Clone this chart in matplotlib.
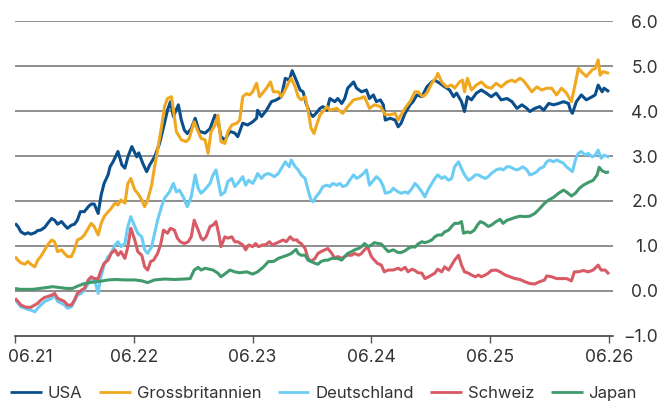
import matplotlib
matplotlib.use("Agg")
import matplotlib.pyplot as plt
import matplotlib.transforms as mtransforms
from matplotlib.ticker import FixedLocator, FuncFormatter

plt.rcParams['font.family'] = ['Inter', 'DejaVu Sans']

# x: months since June 2021 ; values: 10y yield in %
usa_m = [0.0,0.3,0.6,1.0,1.3,1.6,2.0,2.3,2.6,3.0,3.3,3.7,4.0,4.3,4.7,5.0,5.3,5.7,6.0,6.3,6.6,7.0,7.4,7.7,8.0,8.4,8.7,9.0,9.4,9.6,9.9,10.4,10.8,11.1,11.4,11.8,12.3,12.5,12.9,13.3,13.6,14.1,14.6,15.1,15.4,15.7,16.0,16.5,16.8,17.1,17.4,17.8,18.2,18.6,19.2,19.7,20.2,20.5,20.8,21.2,21.7,22.2,22.5,23.0,23.5,24.0,24.4,24.5,24.9,25.4,25.9,26.4,26.9,27.3,27.7,28.0,28.4,28.8,29.1,29.4,29.8,30.1,30.4,30.8,31.1,31.5,31.8,
         32.3,32.6,33.0,33.3,33.6,34.2,34.5,35.0,35.5,35.8,36.2,36.5,36.9,37.2,37.4,37.9,38.4,38.7,39.0,39.4,39.9,40.2,40.6,41.1,41.6,42.1,42.4,42.9,43.4,43.9,44.3,44.6,45.1,45.4,45.7,46.1,46.6,47.1,47.6,48.1,48.6,49.1,49.7,50.2,50.7,51.2,51.7,52.0,52.5,53.0,53.4,53.9,54.4,54.9,55.4,55.9,56.1,56.3,56.7,57.2,57.7,58.3,58.6,58.9,59.3,59.5,60.0]
usa_v = [1.50,1.43,1.31,1.26,1.29,1.26,1.29,1.34,1.35,1.41,1.50,1.61,1.57,1.48,1.54,1.46,1.39,1.46,1.48,1.57,1.76,1.76,1.87,1.93,1.93,1.72,2.13,2.39,2.58,2.76,2.87,3.10,2.80,2.73,2.98,3.21,2.98,3.07,2.84,2.65,2.80,2.98,3.28,3.73,4.02,4.21,3.88,4.14,3.80,3.58,3.50,3.61,3.84,3.55,3.51,3.61,3.91,3.80,3.43,3.36,3.55,3.51,3.43,3.73,3.69,3.76,3.84,4.02,3.88,4.02,4.21,4.25,4.32,4.73,4.69,4.90,4.69,4.47,4.43,4.17,3.95,3.88,3.95,4.06,4.10,4.02,4.28,
         4.21,4.28,4.17,4.28,4.51,4.65,4.51,4.43,4.47,4.28,4.36,4.21,4.25,4.14,3.80,3.84,3.80,3.65,3.73,3.95,4.14,4.21,4.36,4.32,4.54,4.65,4.69,4.62,4.54,4.47,4.32,4.40,4.21,3.99,4.32,4.25,4.40,4.47,4.40,4.32,4.40,4.25,4.28,4.21,4.06,4.14,4.06,3.99,4.06,4.10,4.02,4.17,4.14,4.17,4.21,4.17,4.02,3.95,4.21,4.36,4.25,4.32,4.36,4.58,4.43,4.51,4.43]

gb_m = [0.0,0.3,0.6,1.0,1.3,1.6,2.0,2.3,2.6,3.0,3.3,3.7,4.0,4.3,4.7,5.0,5.3,5.7,6.0,6.3,6.7,7.0,7.4,7.7,8.0,8.4,8.7,9.0,9.4,
        9.6,10.1,10.4,10.7,11.1,11.4,11.7,12.1,12.4,12.8,13.1,13.4,13.8,14.1,14.4,14.8,15.1,15.4,15.8,16.0,16.3,16.8,17.3,17.6,17.9,18.1,18.5,18.8,19.2,
        19.5,19.8,20.2,20.5,20.8,21.2,21.5,21.9,22.4,22.7,23.0,23.4,23.7,24.0,24.4,24.7,25.1,25.4,25.8,26.1,26.6,26.9,27.2,27.6,27.9,28.3,
        28.6,28.9,29.3,29.6,29.9,30.2,30.4,30.8,31.1,31.5,31.8,
        32.5,33.1,33.6,34.2,34.8,35.3,35.8,36.3,36.9,37.4,37.9,38.4,38.7,39.0,39.5,39.9,40.4,40.7,41.2,41.6,42.1,42.6,42.7,43.1,43.6,44.1,44.4,44.9,45.2,45.4,45.7,46.1,46.6,47.1,47.6,48.1,48.6,49.1,49.7,50.2,50.5,51.0,51.3,51.7,52.2,52.7,53.2,53.7,54.2,54.7,55.2,55.7,56.2,56.6,56.9,57.2,57.7,58.3,58.6,58.9,59.1,59.4,60.0]
gb_v = [0.76,0.68,0.62,0.59,0.65,0.59,0.53,0.68,0.76,0.91,1.02,1.13,1.09,0.87,0.91,0.83,0.76,0.76,0.91,1.13,1.17,1.24,1.39,1.50,1.43,1.24,1.50,1.65,1.76,
        1.80,1.95,1.91,2.02,1.95,2.39,2.50,2.24,2.17,2.02,1.87,2.02,2.35,2.76,3.13,3.65,4.10,4.28,4.32,4.02,3.54,3.36,3.32,3.39,3.62,3.76,3.54,3.39,3.36,
        3.06,3.54,3.69,3.91,3.32,3.28,3.54,3.69,3.73,3.80,4.32,4.39,4.36,4.43,4.62,4.32,4.43,4.51,4.65,4.43,4.43,4.32,4.43,4.62,4.73,4.54,
        4.32,4.25,4.32,4.02,3.62,3.50,3.65,3.91,3.99,4.10,4.02,
        4.06,3.95,4.10,4.25,4.28,4.32,4.06,4.14,4.10,3.92,3.92,3.95,3.80,3.92,4.10,4.21,4.43,4.43,4.32,4.40,4.62,4.77,4.84,4.65,4.54,4.58,4.51,4.65,4.69,4.43,4.73,4.47,4.58,4.65,4.54,4.51,4.62,4.54,4.65,4.69,4.65,4.73,4.69,4.58,4.43,4.54,4.47,4.51,4.51,4.36,4.51,4.40,4.21,4.62,4.95,4.88,4.77,4.92,4.95,5.14,4.80,4.88,4.84]

de_m = [0.0,0.3,0.6,1.0,1.3,1.6,2.0,2.3,2.6,3.0,3.3,3.7,4.0,4.3,4.7,5.0,5.3,5.7,6.0,6.3,6.7,7.0,7.4,7.7,8.0,8.4,8.6,9.0,9.4,
        9.6,10.1,10.4,10.7,11.1,11.4,11.7,12.1,12.4,12.8,13.1,13.4,13.8,14.1,14.4,14.8,15.1,15.6,16.0,16.3,16.6,17.0,17.4,17.8,18.2,18.5,18.8,
        19.3,19.7,20.0,20.3,20.6,20.8,21.2,21.5,21.9,22.2,22.5,23.0,23.3,23.6,24.0,24.3,24.5,24.9,25.2,25.6,25.9,26.2,26.6,26.9,27.3,27.7,27.9,28.3,28.6,
        28.9,29.3,29.6,29.9,30.1,30.4,30.8,31.1,31.5,31.8,32.1,32.5,32.8,33.1,33.5,33.8,34.2,34.5,34.8,35.2,35.5,35.8,36.2,36.5,36.9,37.2,37.4,37.9,38.2,
        38.7,39.0,39.4,39.7,40.1,40.4,40.7,41.1,41.4,41.7,42.1,42.4,42.7,43.1,43.4,43.8,44.1,44.4,44.8,45.1,45.4,45.8,46.1,46.5,46.8,47.1,47.5,47.8,
        48.1,48.6,49.0,49.3,49.7,50.0,50.3,50.7,51.0,51.3,51.7,52.0,52.4,52.7,53.0,53.4,53.7,54.0,54.4,54.7,55.1,55.4,55.7,56.1,56.3,56.6,56.9,57.2,57.6,57.9,58.3,58.6,58.9,59.2,59.5,60.0]
de_v = [-0.19,-0.28,-0.36,-0.39,-0.42,-0.43,-0.47,-0.39,-0.32,-0.24,-0.21,-0.17,-0.10,-0.24,-0.28,-0.32,-0.39,-0.36,-0.24,-0.10,-0.06,0.01,0.16,0.24,0.27,-0.06,0.24,0.57,0.76,
        0.79,1.02,1.09,0.98,1.05,1.43,1.65,1.43,1.28,1.20,0.91,0.83,0.98,1.28,1.57,1.87,2.06,2.20,2.39,2.20,2.24,2.09,1.87,2.09,2.58,2.28,2.17,
        2.28,2.39,2.58,2.69,2.35,2.13,2.20,2.43,2.50,2.32,2.39,2.54,2.35,2.46,2.39,2.50,2.61,2.50,2.58,2.61,2.58,2.54,2.61,2.72,2.87,2.76,2.91,2.76,2.69,
        2.58,2.50,2.24,2.02,1.98,2.09,2.20,2.32,2.35,2.32,2.39,2.35,2.39,2.32,2.35,2.46,2.58,2.50,2.54,2.61,2.69,2.35,2.46,2.54,2.46,2.32,2.17,2.20,2.28,
        2.20,2.17,2.20,2.17,2.28,2.39,2.32,2.20,2.09,2.24,2.39,2.50,2.58,2.50,2.54,2.46,2.50,2.76,2.87,2.72,2.58,2.46,2.50,2.58,2.58,2.54,2.50,2.54,
        2.61,2.69,2.72,2.69,2.76,2.76,2.72,2.69,2.72,2.76,2.69,2.58,2.61,2.65,2.72,2.76,2.87,2.91,2.87,2.91,2.87,2.84,2.76,2.69,2.65,2.91,3.06,3.10,3.02,3.06,2.98,3.02,3.13,2.95,3.02,2.97]

ch_m = [0.0,0.3,0.6,1.0,1.3,1.6,2.0,2.3,2.6,3.0,3.3,3.7,4.0,4.3,4.7,5.0,5.3,5.7,6.0,6.3,6.7,7.0,7.4,7.7,8.0,8.4,8.7,9.0,
        9.4,9.7,10.1,10.4,10.7,11.1,11.4,11.7,12.1,12.4,12.8,13.1,13.4,13.7,14.0,14.4,14.7,15.0,15.4,15.7,16.1,16.4,16.7,17.1,17.5,17.8,18.1,18.5,18.8,
        19.0,19.3,19.7,20.0,20.3,20.6,20.8,21.2,21.5,21.9,22.2,22.5,23.0,23.3,23.6,24.0,24.3,24.6,25.0,25.3,25.7,26.0,26.3,26.7,27.1,27.4,27.8,28.1,28.5,
        28.6,28.9,29.3,29.6,29.9,30.3,30.6,30.9,31.3,31.6,32.0,32.3,32.6,33.0,33.3,33.6,34.0,34.3,34.7,35.0,35.3,35.6,36.0,36.3,36.6,37.0,37.3,37.7,38.2,
        38.7,39.0,39.4,39.7,40.1,40.4,40.7,41.1,41.4,41.7,42.1,42.4,42.7,43.1,43.4,43.8,44.1,44.4,44.8,45.1,45.4,45.8,46.1,46.5,46.8,47.1,47.5,47.8,
        48.1,48.6,49.0,49.5,50.0,50.5,51.0,51.5,52.0,52.5,53.0,53.5,53.7,54.2,54.7,55.2,55.7,56.2,56.5,56.9,57.4,57.9,58.4,58.9,59.2,59.6,60.0]
ch_v = [-0.17,-0.24,-0.32,-0.36,-0.37,-0.37,-0.32,-0.28,-0.21,-0.15,-0.13,-0.10,-0.06,-0.17,-0.21,-0.24,-0.32,-0.32,-0.21,-0.06,0.01,0.05,0.24,0.31,0.27,0.27,0.46,0.61,
        0.68,0.83,0.91,0.79,0.87,0.72,0.98,1.39,1.13,0.87,0.79,0.53,0.46,0.65,0.68,0.83,1.02,1.35,1.28,1.39,1.35,1.17,1.09,1.05,1.09,1.20,1.57,1.35,1.17,
        1.13,1.20,1.43,1.46,1.54,1.24,0.98,1.20,1.17,1.20,1.09,1.09,1.02,0.91,1.02,0.98,1.05,0.98,1.02,1.02,1.09,1.02,1.05,1.09,1.13,1.09,1.20,1.13,1.13,
        1.09,1.05,0.94,0.72,0.65,0.72,0.83,0.87,0.91,0.94,0.83,0.72,0.76,0.72,0.76,0.79,0.79,0.83,0.79,0.83,0.91,0.98,0.76,0.68,0.61,0.57,0.42,0.46,0.46,
        0.50,0.46,0.52,0.42,0.48,0.45,0.40,0.39,0.27,0.30,0.35,0.39,0.48,0.42,0.53,0.46,0.57,0.68,0.79,0.57,0.42,0.39,0.35,0.31,0.35,0.31,0.35,0.39,
        0.45,0.46,0.42,0.35,0.31,0.27,0.25,0.20,0.16,0.15,0.20,0.24,0.33,0.31,0.27,0.27,0.27,0.22,0.42,0.42,0.45,0.42,0.46,0.57,0.46,0.46,0.37]

jp_m = [0.0,0.5,1.1,1.8,2.5,3.2,3.8,4.5,5.2,5.8,6.3,6.9,7.5,8.2,8.9,9.4,
        10.1,11.1,12.1,12.8,13.4,14.1,15.1,16.1,17.1,17.7,18.1,18.5,18.8,19.2,
        20.0,20.5,20.8,21.3,21.7,22.2,22.7,23.4,24.0,24.5,25.1,25.6,26.1,26.6,27.1,27.5,27.9,28.4,
        28.6,28.9,29.3,29.6,29.9,30.3,30.6,30.9,31.3,31.6,32.0,32.3,32.6,33.0,33.3,33.6,34.0,34.3,34.7,35.0,35.3,35.7,36.0,36.3,36.7,37.0,37.4,37.7,38.2,
        38.7,39.0,39.4,39.7,40.1,40.4,40.7,41.1,41.4,41.7,42.1,42.4,42.7,43.1,43.4,43.8,44.1,44.4,44.8,45.1,45.3,45.7,46.0,46.4,46.7,47.0,47.4,47.8,
        48.1,48.6,49.0,49.3,49.7,50.0,50.5,51.0,51.5,52.0,52.5,53.0,53.5,53.9,54.4,54.9,55.4,55.7,56.2,56.6,57.0,57.4,57.9,58.4,58.8,59.0,59.3,59.7,60.0]
jp_v = [0.05,0.03,0.03,0.03,0.05,0.07,0.09,0.07,0.05,0.05,0.10,0.15,0.18,0.20,0.22,0.24,
        0.25,0.24,0.24,0.22,0.18,0.24,0.26,0.25,0.26,0.27,0.46,0.52,0.46,0.50,
        0.46,0.39,0.31,0.39,0.46,0.42,0.40,0.42,0.37,0.42,0.53,0.65,0.65,0.72,0.76,0.79,0.83,0.92,
        0.83,0.79,0.79,0.68,0.65,0.61,0.59,0.65,0.68,0.68,0.72,0.72,0.72,0.68,0.76,0.83,0.87,0.91,0.94,0.98,1.05,0.98,1.02,1.07,1.05,1.04,0.94,0.87,0.91,
        0.85,0.85,0.89,0.94,0.98,0.97,1.04,1.09,1.07,1.09,1.13,1.20,1.24,1.24,1.31,1.35,1.43,1.50,1.50,1.54,1.28,1.31,1.29,1.35,1.46,1.54,1.50,1.43,
        1.46,1.54,1.59,1.50,1.57,1.59,1.63,1.66,1.65,1.66,1.72,1.83,1.95,2.02,2.08,2.17,2.24,2.20,2.11,2.17,2.28,2.35,2.41,2.46,2.58,2.75,2.67,2.63,2.65]

series_names = ["USA", "Grossbritannien", "Deutschland", "Schweiz", "Japan"]
series_x = [usa_m, gb_m, de_m, ch_m, jp_m]
series_y = [usa_v, gb_v, de_v, ch_v, jp_v]
colors = ["#0a4f8c", "#f0a820", "#6ccdf4", "#d85a64", "#419a6c"]

xtick_pos = [0, 12, 24, 36, 48, 60]
xtick_labels = ["06.21", "06.22", "06.23", "06.24", "06.25", "06.26"]
ytick_pos = [-1, 0, 1, 2, 3, 4, 5, 6]

fig = plt.figure(figsize=(6.62, 4.01), dpi=100)
ax = fig.add_axes([15/662, 1 - 335.6/401, (613 - 15)/662, (335.6 - 21.3)/401])

for name, xs, ys, c in zip(series_names, series_x, series_y, colors):
    ax.plot(xs, ys, color=c, lw=2.2, label=name, solid_joinstyle='round', solid_capstyle='butt')

ax.set_xlim(0, 60.4)
ax.set_ylim(-1, 6)
for v in ytick_pos[1:]:
    ax.axhline(v, color="#707070", lw=1.1, zorder=0)

for s in ["left", "right", "top"]:
    ax.spines[s].set_visible(False)
ax.spines["bottom"].set_color("#333333")
ax.spines["bottom"].set_linewidth(1.1)

ax.xaxis.set_major_locator(FixedLocator(xtick_pos))
ax.set_xticklabels(xtick_labels)
ax.tick_params(axis="x", length=5, width=1, color="#555555", labelsize=12.6, labelcolor="#333333", pad=5)
# first label kept inside the figure
first = ax.get_xticklabels()[0]
first.set_transform(first.get_transform() + mtransforms.ScaledTranslation(15/100, 0, fig.dpi_scale_trans))

ax.yaxis.tick_right()
ax.yaxis.set_major_locator(FixedLocator(ytick_pos))
ax.yaxis.set_major_formatter(FuncFormatter(lambda v, p: f"{v:.1f}".replace("-", "\u2212")))
ax.tick_params(axis="y", length=0, labelsize=12.6, labelcolor="#333333", pad=32.5)
for lab in ax.get_yticklabels():
    lab.set_horizontalalignment("right")

leg = fig.legend(loc="center left", bbox_to_anchor=(2/662, 1 - 393.5/401), ncol=5, frameon=False,
                 fontsize=12, handlelength=1.9, handletextpad=0.35, columnspacing=1.0, borderpad=0,
                 labelcolor="#333333")
for line in leg.get_lines():
    line.set_linewidth(2.0)

fig.savefig("out.png", dpi=100)
